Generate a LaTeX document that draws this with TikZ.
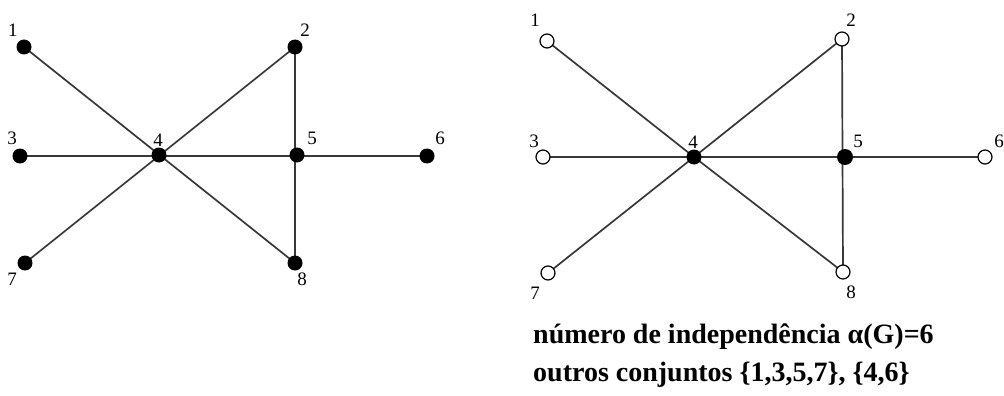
\documentclass[tikz,border=0pt]{standalone}
\usepackage{fontspec}
\setmainfont{Liberation Serif}
\begin{document}
\begin{tikzpicture}[x=1pt,y=-1pt,
  full/.style={circle,fill=black,inner sep=0pt,minimum size=15pt},
  bigfull/.style={circle,fill=black,inner sep=0pt,minimum size=16pt},
  hollow/.style={circle,draw=black,line width=1.2pt,fill=white,inner sep=0pt,minimum size=14pt},
  edge/.style={line width=1.7pt,black!78},
  lab/.style={font=\fontsize{19}{19}\selectfont,inner sep=0pt},
  caption/.style={font=\fontsize{28}{28}\selectfont\bfseries,inner sep=0pt,anchor=base west}]
\useasboundingbox (0,0) rectangle (1004,396);
% left graph
\coordinate (a1) at (24,47);
\coordinate (a2) at (295,47);
\coordinate (a3) at (20,156);
\coordinate (a4) at (159,155);
\coordinate (a5) at (297,155);
\coordinate (a6) at (427,156);
\coordinate (a7) at (25,263);
\coordinate (a8) at (295,263);
\draw[edge] (a1) -- (a8);
\draw[edge] (a7) -- (a2);
\draw[edge] (a3) -- (a6);
\draw[edge] (a2) -- (a8);
\foreach \n in {1,...,8} \node[full] (A\n) at (a\n) {};
\node[lab] (la1) at (13,30) {1};
\node[lab] (la2) at (305,30) {2};
\node[lab] (la3) at (12,138) {3};
\node[lab] (la4) at (158,140) {4};
\node[lab] (la5) at (312,138) {5};
\node[lab] (la6) at (440,138) {6};
\node[lab] (la7) at (12,279) {7};
\node[lab] (la8) at (302,279) {8};
% right graph
\coordinate (b1) at (547,41);
\coordinate (b2) at (842,39);
\coordinate (b3) at (543,157);
\coordinate (b4) at (694,157);
\coordinate (b5) at (845,157);
\coordinate (b6) at (985,157);
\coordinate (b7) at (548,273);
\coordinate (b8) at (843,272);
\draw[edge] (b1) -- (b4) -- (b8);
\draw[edge] (b7) -- (b4) -- (b2);
\draw[edge] (b3) -- (b6);
\draw[edge] (b2) -- (b8);
\node[hollow] (B1) at (b1) {};
\node[hollow] (B2) at (b2) {};
\node[hollow] (B3) at (b3) {};
\node[full] (B4) at (b4) {};
\node[bigfull] (B5) at (b5) {};
\node[hollow] (B6) at (b6) {};
\node[hollow] (B7) at (b7) {};
\node[hollow] (B8) at (b8) {};
\node[lab] (lb1) at (535,20) {1};
\node[lab] (lb2) at (851,20) {2};
\node[lab] (lb3) at (534,141) {3};
\node[lab] (lb4) at (693,142) {4};
\node[lab] (lb5) at (858,141) {5};
\node[lab] (lb6) at (999,141) {6};
\node[lab] (lb7) at (535,293) {7};
\node[lab] (lb8) at (851,292) {8};
\node[caption] (c1) at (533,343) {número de independência α(G)=6};
\node[caption] (c2) at (533,381) {outros conjuntos \{1,3,5,7\}, \{4,6\}};
\end{tikzpicture}
\end{document}
